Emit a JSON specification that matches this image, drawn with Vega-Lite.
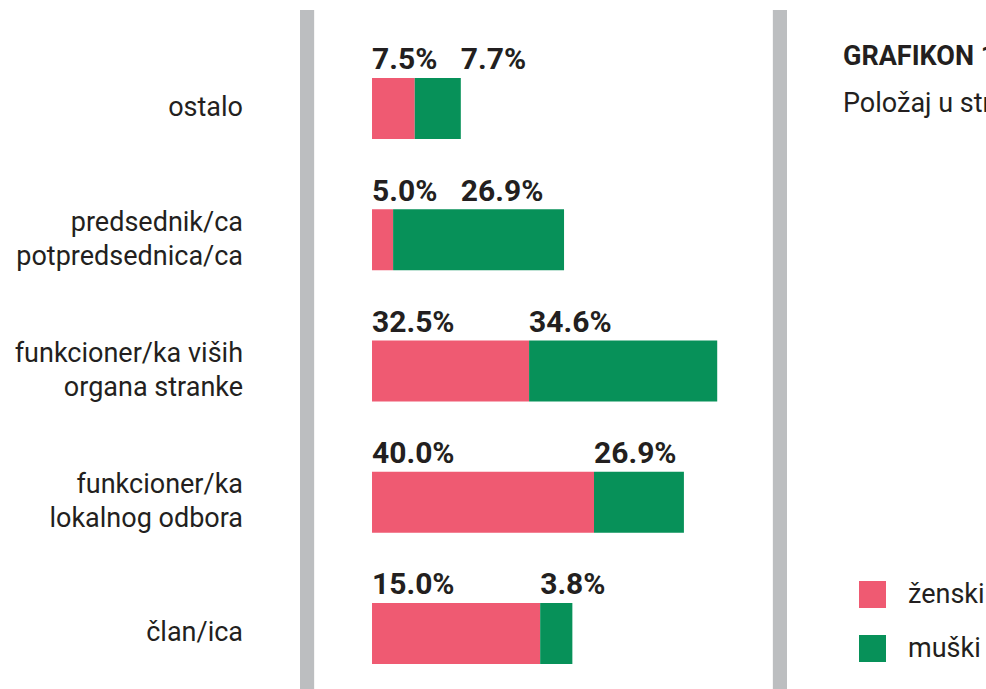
{
  "$schema": "https://vega.github.io/schema/vega-lite/v6.json",
  "width": 986,
  "height": 679,
  "padding": {"left": 0, "right": 0, "top": 10, "bottom": 0},
  "autosize": {"type": "none"},
  "background": "white",
  "config": {"view": {"stroke": null}},
  "title": {
    "text": "GRAFIKON 1",
    "subtitle": "Položaj u stranci prema polu",
    "anchor": "start",
    "frame": "group",
    "orient": "top",
    "offset": 0,
    "dx": 843,
    "dy": 115,
    "font": "Roboto",
    "fontSize": 27,
    "fontWeight": "bold",
    "color": "#231f20",
    "subtitleFont": "Roboto",
    "subtitleFontSize": 27,
    "subtitleColor": "#231f20",
    "subtitlePadding": 20
  },
  "data": {
    "values": [
      {"cat": "ostalo", "sex": "ženski", "length": 7.7, "pct": "7.5%"},
      {"cat": "ostalo", "sex": "muški", "length": 8.3, "pct": "7.7%"},
      {"cat": "predsednik/ca\npotpredsednica/ca", "sex": "ženski", "length": 3.8, "pct": "5.0%"},
      {"cat": "predsednik/ca\npotpredsednica/ca", "sex": "muški", "length": 30.8, "pct": "26.9%"},
      {"cat": "funkcioner/ka viših\norgana stranke", "sex": "ženski", "length": 28.3, "pct": "32.5%"},
      {"cat": "funkcioner/ka viših\norgana stranke", "sex": "muški", "length": 33.9, "pct": "34.6%"},
      {"cat": "funkcioner/ka\nlokalnog odbora", "sex": "ženski", "length": 40.0, "pct": "40.0%"},
      {"cat": "funkcioner/ka\nlokalnog odbora", "sex": "muški", "length": 16.2, "pct": "26.9%"},
      {"cat": "član/ica", "sex": "ženski", "length": 30.3, "pct": "15.0%"},
      {"cat": "član/ica", "sex": "muški", "length": 5.8, "pct": "3.8%"}
    ]
  },
  "transform": [
    {"stack": "length", "groupby": ["cat"], "sort": [{"field": "sex", "order": "descending"}], "as": ["x0", "x1"]},
    {"calculate": "datum.x0 == 0 ? 0 : max(datum.x0, 16)", "as": "lx"}
  ],
  "encoding": {
    "y": {
      "field": "cat",
      "type": "nominal",
      "axis": null,
      "scale": {
        "domain": ["ostalo", "predsednik/ca\npotpredsednica/ca", "funkcioner/ka viših\norgana stranke", "funkcioner/ka\nlokalnog odbora", "član/ica"],
        "paddingInner": 0.535,
        "paddingOuter": 0.354,
        "align": 0.731
      }
    }
  },
  "layer": [
    {
      "mark": {"type": "rule", "color": "#bcbec0", "strokeWidth": 14},
      "encoding": {
        "x": {"datum": -11.71, "type": "quantitative", "scale": {"domain": [-67.03, 110.63], "nice": false, "zero": false}, "axis": null},
        "y": null
      }
    },
    {
      "mark": {"type": "rule", "color": "#bcbec0", "strokeWidth": 14},
      "encoding": {
        "x": {"datum": 73.51, "type": "quantitative"},
        "y": null
      }
    },
    {
      "mark": {"type": "bar"},
      "encoding": {
        "x": {"field": "x0", "type": "quantitative"},
        "x2": {"field": "x1"},
        "color": {
          "field": "sex",
          "type": "nominal",
          "scale": {"domain": ["ženski", "muški"], "range": ["#ef5a72", "#079159"]},
          "legend": {
            "orient": "none",
            "legendX": 859,
            "legendY": 571,
            "title": null,
            "symbolType": "square",
            "symbolSize": 729,
            "symbolStrokeWidth": 0,
            "labelFont": "Roboto",
            "labelFontSize": 27,
            "labelColor": "#231f20",
            "labelOffset": 22,
            "rowPadding": 26,
            "padding": 0
          }
        }
      }
    },
    {
      "mark": {"type": "text", "align": "left", "baseline": "alphabetic", "dy": -39, "font": "Roboto", "fontWeight": "bold", "fontSize": 30, "color": "#231f20"},
      "encoding": {
        "x": {"field": "lx", "type": "quantitative"},
        "text": {"field": "pct"}
      }
    },
    {
      "transform": [{"filter": "datum.sex == 'ženski'"}],
      "mark": {"type": "text", "align": "right", "baseline": "middle", "lineBreak": "\n", "lineHeight": 34, "font": "Roboto", "fontSize": 27, "color": "#231f20", "dy": {"expr": "-(length(split(datum.cat, '\\n')) - 1) * 17"}},
      "encoding": {
        "x": {"datum": -23.24, "type": "quantitative"},
        "text": {"field": "cat"}
      }
    }
  ]
}
